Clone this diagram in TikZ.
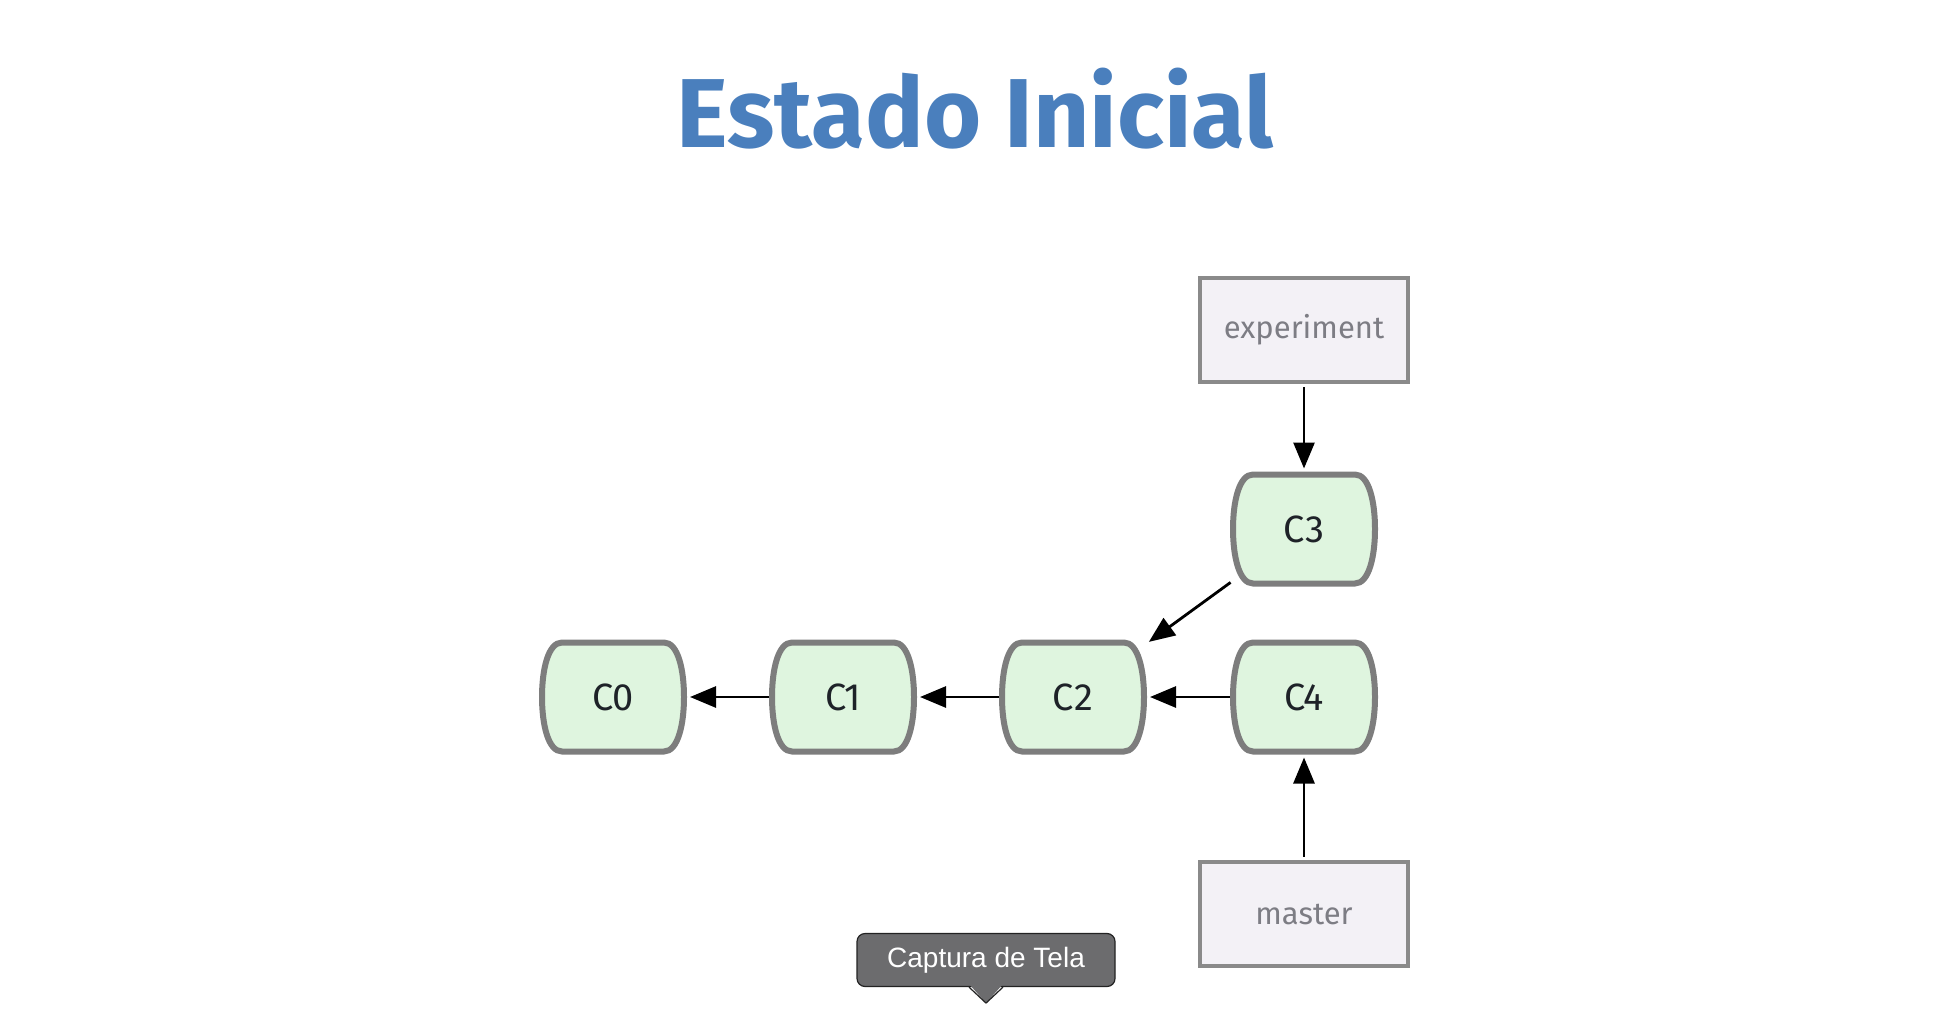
\documentclass[tikz,border=0pt]{standalone}
\usepackage{fontspec}
\setmainfont{Fira Sans}
\newfontfamily\tipfont{Liberation Sans}
\usepackage{tikz}
\usetikzlibrary{arrows.meta,calc,backgrounds}
\definecolor{titleblue}{RGB}{74,127,189}
\definecolor{commitgreen}{RGB}{223,245,223}
\definecolor{commitgray}{RGB}{125,125,125}
\definecolor{commitink}{RGB}{30,34,40}
\definecolor{branchfill}{RGB}{243,241,246}
\definecolor{branchgray}{RGB}{138,138,138}
\definecolor{branchink}{RGB}{125,125,132}
\definecolor{tipfill}{RGB}{108,108,110}
\definecolor{tipline}{RGB}{35,35,35}

\begin{document}
\begin{tikzpicture}[x=0.5pt,y=0.5pt,yscale=-1,xscale=1,
  commit/.style={rectangle, minimum width=71pt, minimum height=54.5pt, inner sep=0pt, outer sep=0pt, text=commitink, font=\fontsize{19}{19}\selectfont},
  commitline/.style={draw=commitgray, fill=commitgreen, line width=3pt},
  branch/.style={rectangle, draw=branchgray, fill=branchfill, line width=2.3pt, minimum width=104pt, minimum height=52pt, inner sep=0pt, text=branchink, font=\fontsize{15.5}{15.5}\selectfont},
  parent/.style={-{Triangle[length=13pt,width=10.5pt]}, line width=1.4pt, shorten >=3pt, shorten <=1.5pt}]
\useasboundingbox (0,0) rectangle (1952,1026);

% Title
\draw (975,148) node [anchor=base, text=titleblue, font=\fontsize{49}{49}\selectfont\bfseries] (title) {Estado Inicial};

% Commits
\draw (613,697) node [commit] (c0) {C0};
\draw (843,697) node [commit] (c1) {C1};
\draw (1073,697) node [commit] (c2) {C2};
\draw (1304,697) node [commit] (c4) {C4};
\draw (1304,529) node [commit] (c3) {C3};

% Commit outlines, flat top and bottom, bulging sides
\begin{pgfonlayer}{background}
\foreach \c in {c0,c1,c2,c3,c4}
  \draw [commitline] ([xshift=10pt]\c.north west) -- ([xshift=-10pt]\c.north east)
    .. controls ([xshift=-3pt]\c.north east) and ($(\c.east)!0.5!(\c.north east)$) .. (\c.east)
    .. controls ($(\c.east)!0.5!(\c.south east)$) and ([xshift=-3pt]\c.south east) .. ([xshift=-10pt]\c.south east)
    -- ([xshift=10pt]\c.south west)
    .. controls ([xshift=3pt]\c.south west) and ($(\c.west)!0.5!(\c.south west)$) .. (\c.west)
    .. controls ($(\c.west)!0.5!(\c.north west)$) and ([xshift=3pt]\c.north west) .. ([xshift=10pt]\c.north west) -- cycle;
\end{pgfonlayer}

% Branches
\draw (1304,330) node [branch] (experiment) {experiment};
\draw (1304,914) node [branch] (master) {master};

% Parent links
\draw [parent] (c1) -- (c0);
\draw [parent] (c2) -- (c1);
\draw [parent] (c4) -- (c2);
\draw [parent] (c3) -- (c2);
\draw [parent] (experiment) -- (c3);
\draw [parent] (master) -- (c4);

% Tooltip
\draw (986,960) node [rectangle, rounded corners=4pt, draw=tipline, fill=tipfill, line width=0.6pt, minimum width=129pt, minimum height=26.5pt, inner sep=0pt, text=white, font=\tipfont\fontsize{14}{14}\selectfont] (tip) {Captura de Tela};
\coordinate (tipend) at ($(tip.south)+(0,16)$);
\fill [tipfill] ($(tip.south)+(-16,-2)$) -- (tipend) -- ($(tip.south)+(16,-2)$) -- cycle;
\draw [tipline, line width=0.6pt, line join=round] ($(tip.south)+(-17,0)$) -- (tipend) -- ($(tip.south)+(17,0)$);

\end{tikzpicture}
\end{document}
